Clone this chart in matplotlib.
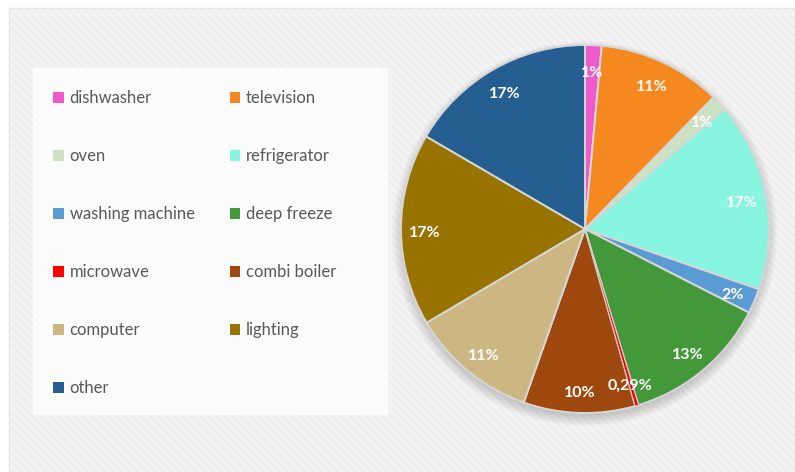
import matplotlib.pyplot as plt
from matplotlib.patches import Rectangle, Circle

plt.rcParams['font.family'] = ['Lato', 'DejaVu Sans']
plt.rcParams['hatch.linewidth'] = 1.0

# appliance shares of consumption (%)
appliances = ['dishwasher', 'television', 'oven', 'refrigerator', 'washing machine',
              'deep freeze', 'microwave', 'combi boiler', 'computer', 'lighting', 'other']
shares = [1.45, 10.86, 1.4, 16.6, 2.2, 12.8, 0.29, 9.8, 11.1, 16.9, 16.6]
colors = ['#EE5ACB', '#F5891F', '#CBE3C3', '#87F5DF', '#5B9BD5', '#43983A',
          '#FF0000', '#9E480E', '#CCB682', '#997300', '#255E91']

W, H = 795, 472
fig = plt.figure(figsize=(W / 100, H / 100), dpi=100)
fig.patch.set_facecolor('white')

# gray panel with fine diagonal texture
fig.patches.append(Rectangle((9 / W, 0), 1 - 9 / W, (H - 8) / H, transform=fig.transFigure,
                             facecolor='#f3f3f3', edgecolor='#e4e4e4', lw=1, zorder=0))
fig.patches.append(Rectangle((9 / W, 0), 1 - 9 / W, (H - 8) / H, transform=fig.transFigure,
                             facecolor='none', edgecolor='#ececec', hatch='\\\\\\\\', lw=0, zorder=0))

# legend background
fig.patches.append(Rectangle((33 / W, 1 - 415 / H), 355 / W, 347 / H, transform=fig.transFigure,
                             facecolor='#fbfbfb', edgecolor='none', zorder=1))

# pie
cx, cy, r = 585, 229, 184
ax = fig.add_axes([(cx - r) / W, (H - cy - r) / H, 2 * r / W, 2 * r / H])
ax.set_zorder(2)
ax.patch.set_visible(False)
ax.axis('off')

# soft shadow under the pie
for k in range(8):
    ax.add_patch(Circle((0, -0.025), 0.99 + 0.008 * k, facecolor='black',
                        alpha=0.022, lw=0, zorder=0, clip_on=False))


def fmt(p):
    if p < 1:
        return f'{p:.2f}%'.replace('.', ',')
    return f'{p:.0f}%'


wedges, texts, autotexts = ax.pie(
    shares, colors=colors, startangle=90, counterclock=False, radius=1,
    autopct=fmt, pctdistance=0.87,
    wedgeprops=dict(edgecolor='#d6d6d6', linewidth=1.4),
    textprops=dict(color='white', fontsize=11.5, fontweight='bold'))
for w in wedges:
    w.set_zorder(2)
# keep the thin microwave slice visible
wedges[6].set_linewidth(0.5)
wedges[6].set_zorder(2.5)
for t in autotexts:
    x, y = t.get_position()
    t.set_position((x, y - 0.02))
    t.set_zorder(3)
ax.set_xlim(-1, 1)
ax.set_ylim(-1, 1)

# legend laid out row by row in two columns
order = [0, 2, 4, 6, 8, 10, 1, 3, 5, 7, 9]
leg = fig.legend([wedges[i] for i in order], [appliances[i] for i in order],
                 ncol=2, frameon=False, loc='upper left',
                 bbox_to_anchor=(45 / W, 1 - 82 / H),
                 fontsize=12, labelcolor='#595959',
                 handlelength=0.62, handleheight=0.62, handletextpad=0.35,
                 labelspacing=2.52, columnspacing=2.1, borderpad=0)
leg.set_zorder(3)
for h in leg.legend_handles:
    h.set_edgecolor('none')
    h.set_linewidth(0)

fig.savefig('out.png', dpi=100)
